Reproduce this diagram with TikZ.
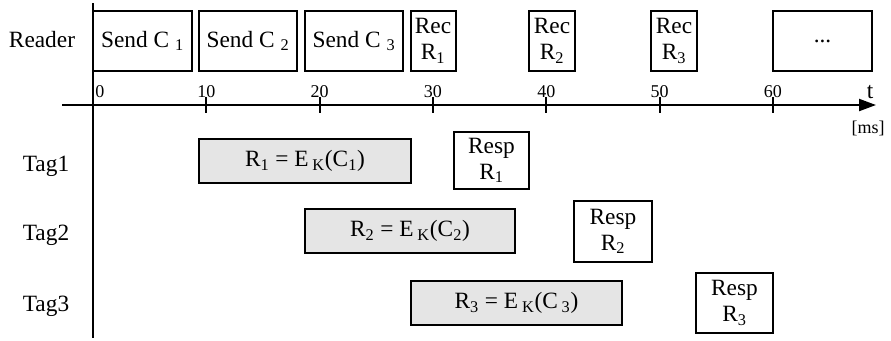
\documentclass[tikz,border=0pt]{standalone}
\usepackage{fontspec}
\setmainfont{Liberation Serif}
\usetikzlibrary{arrows.meta}
\begin{document}
\begin{tikzpicture}[x=0.75pt,y=0.75pt,yscale=-1,xscale=1,
  slot/.style 2 args={draw, line width=1.5pt, inner sep=0pt, align=center, minimum width=#1*0.75pt, minimum height=#2*0.75pt, font=\fontsize{17.5}{19.5}\selectfont},
  compute/.style 2 args={slot={#1}{#2}, fill=black!10},
  lbl/.style={anchor=base, font=\fontsize{17.5}{19.5}\selectfont},
  ticklbl/.style={anchor=base, inner sep=0pt, font=\fontsize{13.5}{15}\selectfont}]
            \useasboundingbox (0,0) rectangle (891,340);
            \coordinate (top) at (93,3);
            \coordinate (bot) at (93,338);
            \coordinate (left) at (62,105);
            \coordinate (right) at (876,105);
            \draw[line width=1.6pt] (top) -- (bot);
            \draw[line width=1.6pt,-{Triangle[length=12.75pt,width=9pt]}] (left) -- (right);
            \node[ticklbl,anchor=base west] (t0) at (95,97) {0};
            \foreach \i in {1,...,6}{
              \draw[line width=1.5pt] (93+113.33*\i,97) -- (93+113.33*\i,113);
              \node[ticklbl] (t\i) at (93+113.33*\i,97) {\i0};
            }
            \node[ticklbl,font=\fontsize{17.5}{19.5}\selectfont] (tl) at (870,98) {t};
            \node[ticklbl] (ms) at (868,133) {[ms]};
            \node[lbl] (reader) at (42,47) {Reader};
            \node[lbl] (tag1) at (46,171) {Tag1};
            \node[lbl] (tag2) at (46,240) {Tag2};
            \node[lbl] (tag3) at (46,311) {Tag3};
            \node[slot={99}{60}] (send1) at (142.5,41) {Send C~\textsubscript{1}};
            \node[slot={98}{60}] (send2) at (248,41) {Send C~\textsubscript{2}};
            \node[slot={98}{60}] (send3) at (354,41) {Send C~\textsubscript{3}};
            \node[slot={45}{60}] (rec1) at (433,41) {Rec\\R\textsubscript{1}};
            \node[slot={46}{60}] (rec2) at (552,41) {Rec\\R\textsubscript{2}};
            \node[slot={46}{60}] (rec3) at (674,41) {Rec\\R\textsubscript{3}};
            \node[slot={99}{60}] (more) at (822.5,41) {...};
            \node[compute={212}{44}] (enc1) at (305,161) {R\textsubscript{1} = E\,\textsubscript{K}(C\textsubscript{1})};
            \node[compute={210}{44}] (enc2) at (410,231) {R\textsubscript{2} = E\,\textsubscript{K}(C\textsubscript{2})};
            \node[compute={211}{44}] (enc3) at (516.5,303) {R\textsubscript{3} = E\,\textsubscript{K}(C\,\textsubscript{3})};
            \node[slot={75}{57}] (resp1) at (491.5,160.5) {Resp\\R\textsubscript{1}};
            \node[slot={78}{61}] (resp2) at (613,231.5) {Resp\\R\textsubscript{2}};
            \node[slot={77}{60}] (resp3) at (734.5,303) {Resp\\R\textsubscript{3}};
        \end{tikzpicture}
\end{document}
